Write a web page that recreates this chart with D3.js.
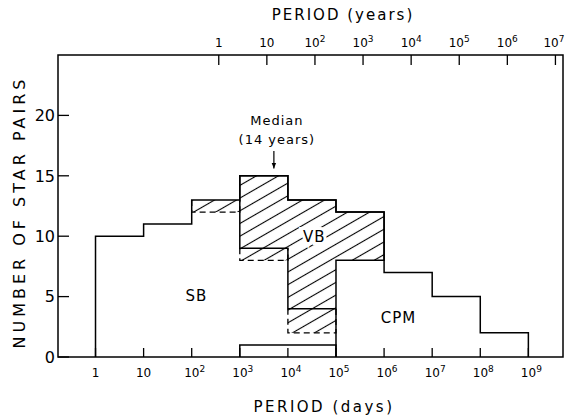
<!DOCTYPE html>
<html>
<head>
<meta charset="utf-8">
<script src="https://cdn.jsdelivr.net/npm/d3@7"></script>
<style>
  body { margin: 0; background: #fff; }
  text { font-family: "DejaVu Sans", sans-serif; fill: #000; }
</style>
</head>
<body>
<div id="chart"></div>
<script>
const width = 566;
const height = 419;

// histogram bins are decades of period in days: 10^0 .. 10^9
const binExp = [0, 1, 2, 3, 4, 5, 6, 7, 8, 9];
const totalPairs = [10, 11, 13, 15, 13, 12, 7, 5, 2];
// bottom of the firm VB (hatched) part of each bin
const vbLow = [null, null, null, 9, 4, 8, null, null, null];
// uncertain part, hatched with dashed outline
const dashTop = [null, null, 13, 9, 4, null, null, null, null];
const dashLow = [null, null, 12, 8, 2, null, null, null, null];
// small box at the bottom of the 10^3 - 10^5 bins
const boxPairs = [0, 0, 0, 1, 1, 0, 0, 0, 0];
// separator between SB and CPM at 10^5 days
const divider = { exp: 5, from: 0, to: 4 };

const dayTickExp = [0, 1, 2, 3, 4, 5, 6, 7, 8, 9];
const yearTickExp = [0, 1, 2, 3, 4, 5, 6, 7];
const countTicks = [0, 5, 10, 15, 20];

const regionLabels = [
  { text: "SB", days: Math.pow(10, 2.1), n: 5.1 },
  { text: "VB", days: Math.pow(10, 4.55), n: 10.0 },
  { text: "CPM", days: Math.pow(10, 6.3), n: 3.3 }
];
const medianYears = 14;
const DAYS_PER_YEAR = 365.25;

var svg = d3.select("#chart").append("svg")
  .attr("width", width)
  .attr("height", height);

let x = d3.scaleLog()
  .domain([Math.pow(10, -0.78), Math.pow(10, 9.72)])
  .range([58, 563]);

let y = d3.scaleLinear()
  .domain([0, 25])
  .range([357, 55]);

let edge = (i) => x(Math.pow(10, binExp[i]));

// hatch pattern
svg.append("defs").append("pattern")
  .attr("id", "hatch")
  .attr("patternUnits", "userSpaceOnUse")
  .attr("width", 11)
  .attr("height", 11)
  .attr("patternTransform", "rotate(-30)")
  .append("line")
  .attr("x1", -1).attr("y1", 5.5)
  .attr("x2", 12).attr("y2", 5.5)
  .attr("stroke", "#000")
  .attr("stroke-width", 1.1);

let line = d3.line();

// dashed (uncertain) hatched parts
totalPairs.forEach((t, i) => {
  if (dashLow[i] == null) return;
  svg.append("rect")
    .attr("x", edge(i))
    .attr("y", y(dashTop[i]))
    .attr("width", edge(i + 1) - edge(i))
    .attr("height", y(dashLow[i]) - y(dashTop[i]))
    .attr("fill", "url(#hatch)");
  svg.append("path")
    .attr("d", line([
      [edge(i), y(dashTop[i])],
      [edge(i), y(dashLow[i])],
      [edge(i + 1), y(dashLow[i])],
      [edge(i + 1), y(dashTop[i])]
    ]))
    .attr("fill", "none")
    .attr("stroke", "#000")
    .attr("stroke-width", 1.3)
    .attr("stroke-dasharray", "6,4");
});

// firm VB region as one polygon
let vbBins = totalPairs.map((t, i) => i).filter((i) => vbLow[i] != null);
let vbPts = [];
vbBins.forEach((i) => {
  vbPts.push([edge(i), y(totalPairs[i])], [edge(i + 1), y(totalPairs[i])]);
});
vbBins.slice().reverse().forEach((i) => {
  vbPts.push([edge(i + 1), y(vbLow[i])], [edge(i), y(vbLow[i])]);
});
svg.append("path")
  .attr("d", line(vbPts) + "Z")
  .attr("fill", "url(#hatch)")
  .attr("stroke", "#000")
  .attr("stroke-width", 1.5);

// outer envelope
let envPts = [[edge(0), y(0)]];
totalPairs.forEach((t, i) => {
  envPts.push([edge(i), y(t)], [edge(i + 1), y(t)]);
});
envPts.push([edge(totalPairs.length), y(0)]);
svg.append("path")
  .attr("d", line(envPts))
  .attr("fill", "none")
  .attr("stroke", "#000")
  .attr("stroke-width", 1.5);

// bottom box
let boxBins = boxPairs.map((b, i) => i).filter((i) => boxPairs[i] > 0);
let boxPts = [[edge(boxBins[0]), y(0)]];
boxBins.forEach((i) => {
  boxPts.push([edge(i), y(boxPairs[i])], [edge(i + 1), y(boxPairs[i])]);
});
boxPts.push([edge(boxBins[boxBins.length - 1] + 1), y(0)]);
svg.append("path")
  .attr("d", line(boxPts))
  .attr("fill", "none")
  .attr("stroke", "#000")
  .attr("stroke-width", 1.5);

svg.append("line")
  .attr("x1", x(Math.pow(10, divider.exp)))
  .attr("x2", x(Math.pow(10, divider.exp)))
  .attr("y1", y(divider.from))
  .attr("y2", y(divider.to))
  .attr("stroke", "#000")
  .attr("stroke-width", 1.5);

// frame
svg.append("rect")
  .attr("x", x.range()[0])
  .attr("y", y.range()[1])
  .attr("width", x.range()[1] - x.range()[0])
  .attr("height", y.range()[0] - y.range()[1])
  .attr("fill", "none")
  .attr("stroke", "#000")
  .attr("stroke-width", 1.5);

function powLabel(sel, e) {
  if (e === 0) { sel.text("1"); return; }
  sel.append("tspan").text("10");
  if (e > 1) {
    sel.append("tspan")
      .attr("dy", -5)
      .attr("font-size", 9)
      .text(e);
  }
}

// bottom axis (days)
let bottomAxis = svg.append("g");
dayTickExp.forEach((e) => {
  let px = x(Math.pow(10, e));
  bottomAxis.append("line")
    .attr("x1", px).attr("x2", px)
    .attr("y1", y(0)).attr("y2", y(0) - 9)
    .attr("stroke", "#000").attr("stroke-width", 1.3);
  bottomAxis.append("text")
    .attr("x", px + (e > 1 ? 3 : 0))
    .attr("y", 377)
    .attr("text-anchor", "middle")
    .attr("font-size", 12)
    .call(powLabel, e);
});

// top axis (years)
let topAxis = svg.append("g");
yearTickExp.forEach((e) => {
  let px = x(Math.pow(10, e) * DAYS_PER_YEAR);
  topAxis.append("line")
    .attr("x1", px).attr("x2", px)
    .attr("y1", y(25)).attr("y2", y(25) + 10)
    .attr("stroke", "#000").attr("stroke-width", 1.3);
  topAxis.append("text")
    .attr("x", Math.min(px, width - 12))
    .attr("y", 47)
    .attr("text-anchor", "middle")
    .attr("font-size", 12)
    .call(powLabel, e);
});

// left axis
let leftAxis = svg.append("g");
countTicks.forEach((c) => {
  leftAxis.append("line")
    .attr("x1", x.range()[0]).attr("x2", x.range()[0] + 11)
    .attr("y1", y(c)).attr("y2", y(c))
    .attr("stroke", "#000").attr("stroke-width", 1.3);
  leftAxis.append("text")
    .attr("x", 55)
    .attr("y", y(c))
    .attr("dy", "0.36em")
    .attr("text-anchor", "end")
    .attr("font-size", 16)
    .text(c);
});

// axis titles
svg.append("text")
  .attr("x", 324).attr("y", 412)
  .attr("text-anchor", "middle")
  .attr("font-size", 15)
  .attr("letter-spacing", 2.5)
  .text("PERIOD (days)");

svg.append("text")
  .attr("x", 343).attr("y", 20)
  .attr("text-anchor", "middle")
  .attr("font-size", 15)
  .attr("letter-spacing", 2)
  .text("PERIOD (years)");

svg.append("text")
  .attr("transform", "translate(25," + 212 + ") rotate(-90)")
  .attr("text-anchor", "middle")
  .attr("font-size", 16)
  .attr("letter-spacing", 4)
  .text("NUMBER OF STAR PAIRS");

// region labels (white halo breaks the hatching like the original)
regionLabels.forEach((d) => {
  svg.append("text")
    .attr("x", x(d.days))
    .attr("y", y(d.n))
    .attr("dy", "0.36em")
    .attr("text-anchor", "middle")
    .attr("font-size", 15)
    .attr("letter-spacing", 1)
    .attr("stroke", "#fff")
    .attr("stroke-width", 6)
    .attr("paint-order", "stroke")
    .text(d.text);
});

// median annotation
let mx = x(medianYears * DAYS_PER_YEAR);
svg.append("defs").append("marker")
  .attr("id", "arrow")
  .attr("viewBox", "0 0 10 10")
  .attr("refX", 10).attr("refY", 5)
  .attr("markerWidth", 5).attr("markerHeight", 5)
  .attr("orient", "auto")
  .append("path")
  .attr("d", "M0,1L10,5L0,9Z")
  .attr("fill", "#000");

svg.append("line")
  .attr("x1", mx).attr("x2", mx)
  .attr("y1", y(17.05)).attr("y2", y(15.6))
  .attr("stroke", "#000").attr("stroke-width", 1.2)
  .attr("marker-end", "url(#arrow)");

svg.append("text")
  .attr("x", mx + 3).attr("y", y(17.05) - 26)
  .attr("text-anchor", "middle")
  .attr("font-size", 13)
  .attr("letter-spacing", 1)
  .text("Median");

svg.append("text")
  .attr("x", mx + 3).attr("y", y(17.05) - 7)
  .attr("text-anchor", "middle")
  .attr("font-size", 13)
  .attr("letter-spacing", 1)
  .text("(14 years)");
</script>
</body>
</html>
